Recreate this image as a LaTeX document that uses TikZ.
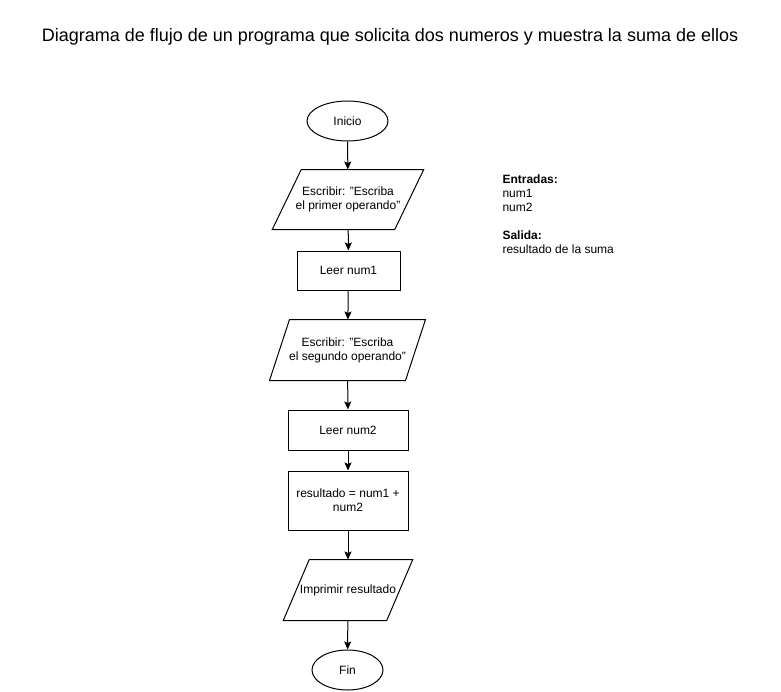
\documentclass[tikz,border=0pt]{standalone}
\usepackage{fontspec}
\setmainfont{Liberation Sans}
\usetikzlibrary{shapes.geometric, arrows.meta}

% paralelogramo alrededor de un nodo: {nodo}{inclinacion}
\newcommand\paralelo[2]{%
  \draw[-] ([xshift=#2/2]#1.north west) -- ([xshift=#2/2]#1.north east)
    -- ([xshift=-#2/2]#1.south east) -- ([xshift=-#2/2]#1.south west) -- cycle;}

\begin{document}
\begin{tikzpicture}[x=1pt,y=-1pt,->,>={Stealth[length=8pt,width=7pt,inset=1.5pt]},line width=1pt,
    every node/.style={font=\fontsize{12}{14}\selectfont, align=center, inner sep=0pt},
    terminal/.style={draw, ellipse, minimum width=#1, minimum height=40},
    proceso/.style={draw, rectangle, minimum height=#1},
    entsal/.style={rectangle, minimum width=#1, minimum height=59}]
                \useasboundingbox (0,0) rectangle (781,691);
                \node[font=\fontsize{18}{20}\selectfont] (titulo) at (390,37) {Diagrama de flujo de un programa que solicita dos numeros y muestra la suma de ellos};
                \node[terminal=81] (inicio) at (347.5,121) {Inicio};
                \node[entsal=121.5] (esc1) at (348,199.5) {Escribir: "Escriba\\el primer operando"};
                \node[proceso=39, minimum width=103] (leer1) at (348.5,270.5) {Leer num1};
                \node[entsal=135, minimum height=60] (esc2) at (347.5,350) {Escribir: "Escriba\\el segundo operando"};
                \node[proceso=40, minimum width=120] (leer2) at (348,430) {Leer num2};
                \node[proceso=59, minimum width=120] (suma) at (348,500.5) {resultado = num1 +\\num2};
                \node[entsal=102.5, minimum height=60] (imp) at (348,590) {Imprimir resultado};
                \node[terminal=71] (fin) at (347.5,670) {Fin};
                \node[anchor=north west, align=left] (datos) at (502,174) {\textbf{Entradas:}\\num1\\num2\\[14pt]\textbf{Salida:}\\resultado de la suma};
                \paralelo{esc1}{29}
                \paralelo{esc2}{20}
                \paralelo{imp}{26}
                \path
                (inicio) edge (esc1)
                (esc1) edge (leer1)
                (leer1) edge (esc2)
                (esc2) edge (leer2)
                (leer2) edge (suma)
                (suma) edge (imp)
                (imp) edge (fin)
                ;
            \end{tikzpicture}
\end{document}
